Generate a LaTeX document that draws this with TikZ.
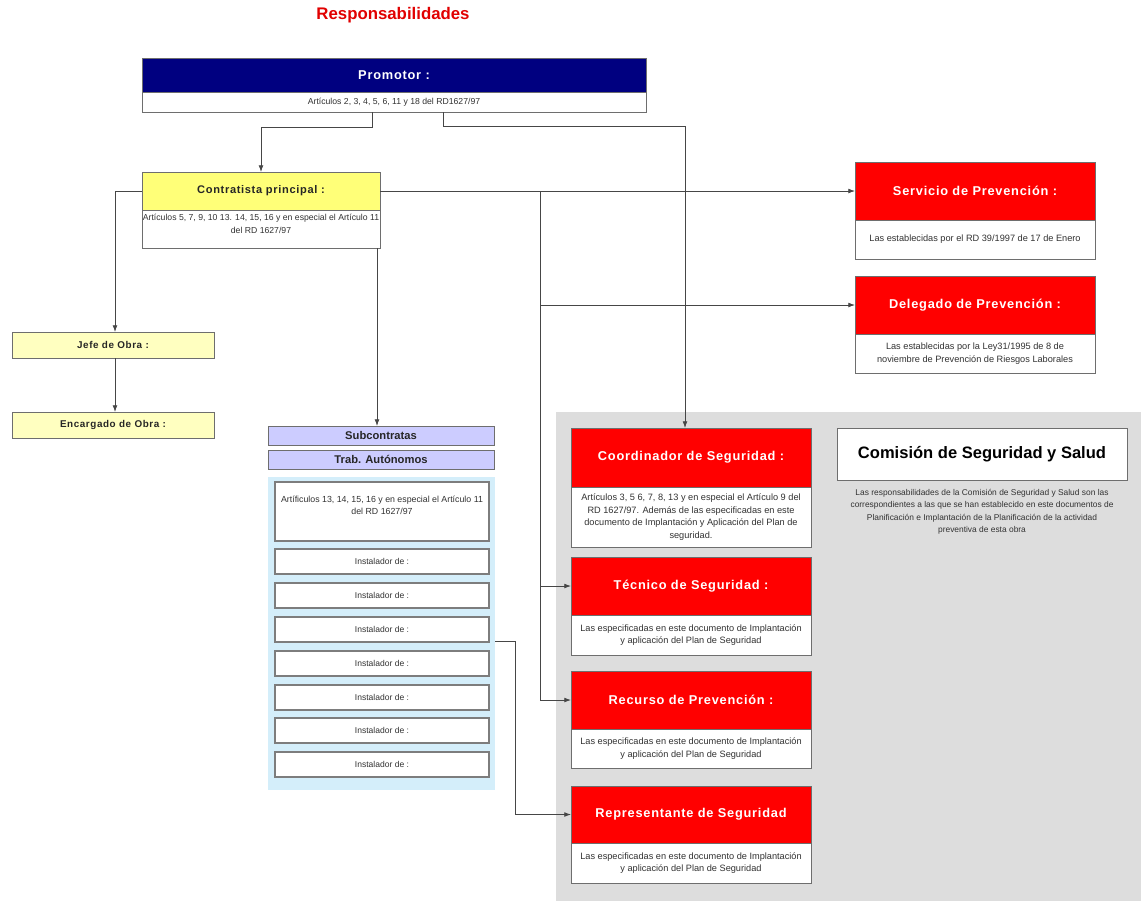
\documentclass[tikz,border=0pt]{standalone}
\usepackage{fontspec}
\setmainfont{Liberation Sans}
\newfontfamily\hdrfont[LetterSpace=6.0]{Liberation Sans}
\usetikzlibrary{arrows.meta}
\definecolor{navyc}{RGB}{0,0,128}
\definecolor{redc}{RGB}{255,0,0}
\definecolor{titlec}{RGB}{225,0,0}
\definecolor{yelc}{RGB}{255,255,120}
\definecolor{paleyel}{RGB}{255,255,192}
\definecolor{lavc}{RGB}{204,204,255}
\definecolor{lbluec}{RGB}{212,238,250}
\definecolor{greyc}{RGB}{221,221,221}
\definecolor{bordc}{RGB}{110,110,110}
\definecolor{txtc}{RGB}{50,50,50}
\definecolor{linec}{RGB}{70,70,70}
\tikzset{
  sz/.style 2 args={minimum width=#1*0.75pt, minimum height=#2*0.75pt},
  bx/.style={draw=bordc, line width=0.6pt, inner sep=0pt, outer sep=0pt, anchor=north west, align=center},
  hdrred/.style={bx, fill=redc, text=white, font=\hdrfont\bfseries\fontsize{9.6}{11}\selectfont},
  subw/.style={bx, fill=white, text=txtc, font=\fontsize{6.9}{9.6}\selectfont},
  inst/.style={bx, draw=bordc!90, line width=1pt, fill=white, text=txtc, font=\fontsize{6.4}{8}\selectfont, sz={214}{25}},
  lav/.style={bx, fill=lavc, text=black!85, font=\bfseries\fontsize{8.4}{10}\selectfont, sz={226}{19}},
  pale/.style={bx, fill=paleyel, text=black!85, font=\hdrfont\bfseries\fontsize{7.4}{9}\selectfont, sz={202}{26}},
  freetxt/.style={text=txtc, align=center, anchor=north, inner sep=0pt},
  arr/.style={draw=linec, line width=0.6pt, -{Latex[length=5pt,width=3.6pt]}},
  conn/.style={draw=linec, line width=0.6pt}
}
\begin{document}
\begin{tikzpicture}[x=0.75pt,y=-0.75pt]
\useasboundingbox (0,0) rectangle (1141,901);
\fill[white] (0,0) rectangle (1141,901);
% grey area
\fill[greyc] (556,412) rectangle (1141,901);

% title
\node[text=titlec, font=\bfseries\fontsize{12.6}{14}\selectfont] (title) at (393,15) {Responsabilidades};

% Promotor
\node[bx, fill=navyc, text=white, font=\hdrfont\bfseries\fontsize{9.6}{11}\selectfont, sz={504}{34}] (prom) at (142,58) {Promotor :};
\node[subw, font=\fontsize{6.5}{8}\selectfont, sz={504}{20}] (promsub) at (142,92) {Artículos 2, 3, 4, 5, 6, 11 y 18 del RD1627/97};

% Contratista
\node[bx, fill=yelc, text=black!85, font=\hdrfont\bfseries\fontsize{8.3}{10}\selectfont, sz={238}{38}] (contr) at (142,172) {Contratista principal :};
\node[bx, fill=white, sz={238}{38}] (contrsub) at (142,210) {};
\node[freetxt, font=\fontsize{6.5}{9.4}\selectfont] (contrtxt) at (261,214) {Artículos 5, 7, 9, 10 13. 14, 15, 16 y en especial el Artículo 11\\del RD 1627/97};

% Jefe / Encargado
\node[pale] (jefe) at (12,332) {Jefe de Obra :};
\node[pale] (enc) at (12,412) {Encargado de Obra :};

% Subcontratas
\node[lav] (subc) at (268,426) {Subcontratas};
\node[lav] (trab) at (268,450) {Trab. Autónomos};
\node[bx, draw=none, fill=lbluec, sz={227}{313}] (panel) at (268,477) {};
\node[inst, sz={214}{59}] (art) at (275,482) {};
\node[freetxt, font=\fontsize{6.6}{9}\selectfont] (arttxt) at (382,496) {Artíficulos 13, 14, 15, 16 y en especial el Artículo 11\\del RD 1627/97};
\node[inst] (i1) at (275,549) {Instalador de :};
\node[inst] (i2) at (275,583) {Instalador de :};
\node[inst] (i3) at (275,617) {Instalador de :};
\node[inst] (i4) at (275,651) {Instalador de :};
\node[inst] (i5) at (275,685) {Instalador de :};
\node[inst] (i6) at (275,718) {Instalador de :};
\node[inst] (i7) at (275,752) {Instalador de :};

% Right column
\node[hdrred, sz={240}{58}] (serv) at (855,162) {Servicio de Prevención :};
\node[subw, sz={240}{39}] (servsub) at (855,220) {Las establecidas por el RD 39/1997 de 17 de Enero};
\node[hdrred, sz={240}{58}] (deleg) at (855,276) {Delegado de Prevención :};
\node[subw, sz={240}{39}] (delegsub) at (855,334) {Las establecidas por la Ley31/1995 de 8 de\\noviembre de Prevención de Riesgos Laborales};

% Red boxes
\node[hdrred, sz={240}{59}] (coord) at (571,428) {Coordinador de Seguridad :};
\node[subw, sz={240}{60}] (coordsub) at (571,487) {Artículos 3, 5 6, 7, 8, 13 y en especial el Artículo 9 del\\RD 1627/97. Además de las especificadas en este\\documento de Implantación y Aplicación del Plan de\\seguridad.};
\node[hdrred, sz={240}{58}] (tec) at (571,557) {Técnico de Seguridad :};
\node[subw, sz={240}{40}] (tecsub) at (571,615) {Las especificadas en este documento de Implantación\\y aplicación del Plan de Seguridad};
\node[hdrred, sz={240}{58}] (rec) at (571,671) {Recurso de Prevención :};
\node[subw, sz={240}{39}] (recsub) at (571,729) {Las especificadas en este documento de Implantación\\y aplicación del Plan de Seguridad};
\node[hdrred, sz={240}{57}] (rep) at (571,786) {Representante de Seguridad};
\node[subw, sz={240}{40}] (repsub) at (571,843) {Las especificadas en este documento de Implantación\\y aplicación del Plan de Seguridad};

% Comision
\node[bx, fill=white, text=black, font=\bfseries\fontsize{12.4}{14}\selectfont, sz={290}{52}] (com) at (837,428) {Comisión de Seguridad y Salud};
\node[freetxt, font=\fontsize{6.3}{9.2}\selectfont] (comdesc) at (982,489) {Las responsabilidades de la Comisión de Seguridad y Salud son las\\correspondientes a las que se han establecido en este documentos de\\Planificación e Implantación de la Planificación de la actividad\\preventiva de esta obra};

% connectors
\draw[arr] (promsub.south -| 372,0) -- (372,127) -| (contr.north);
\draw[arr] (promsub.south -| 443,0) -- (443,126) -| (coord.north -| 685,0);
\draw[arr] (contr.east) -- (contr.east -| serv.west);
\draw[arr] (contr.east -| 540,0) |- (deleg.west);
\draw[arr] (contr.east -| 540,0) |- (tec.west);
\draw[arr] (contr.east -| 540,0) |- (rec.west);
\draw[arr] (contr.west) -| (jefe.north -| 115,0);
\draw[arr] (jefe.south -| 115,0) -- (enc.north -| 115,0);
\draw[arr] (contrsub.south -| 377,0) -- (subc.north -| 377,0);
\draw[arr] (panel.east |- 0,641) -- (515,641) |- (rep.west);
\end{tikzpicture}
\end{document}
